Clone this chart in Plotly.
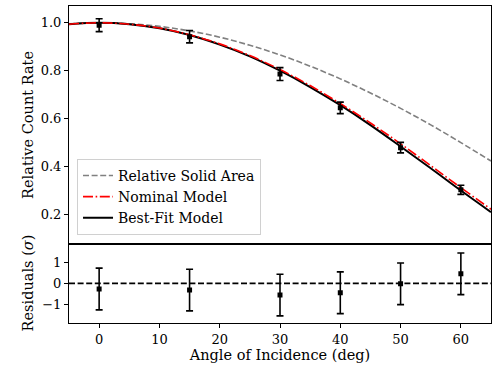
import plotly.graph_objects as go
from plotly.subplots import make_subplots

# measured points
angles = [0, 15, 30, 40, 50, 60]
rate = [0.990, 0.942, 0.786, 0.645, 0.479, 0.303]
rate_err = [0.027, 0.026, 0.027, 0.024, 0.022, 0.019]
resid = [-0.27, -0.32, -0.56, -0.45, -0.02, 0.46]
resid_err = [1, 1, 1, 1, 1, 1]

theta = [-5, 0, 5, 10, 15, 20, 25, 30, 35, 40, 45, 50, 55, 60, 65]
solid_area = [0.996, 1.0, 0.996, 0.985, 0.966, 0.940, 0.906, 0.866, 0.819,
              0.766, 0.707, 0.643, 0.574, 0.500, 0.423]
nominal = [0.994, 1.0, 0.994, 0.978, 0.950, 0.912, 0.863, 0.805, 0.738,
           0.663, 0.582, 0.495, 0.404, 0.312, 0.222]
best_fit = [0.994, 1.0, 0.994, 0.977, 0.949, 0.909, 0.860, 0.800, 0.732,
            0.656, 0.573, 0.484, 0.393, 0.300, 0.210]

FONT = "DejaVu Serif"

fig = make_subplots(rows=2, cols=1, shared_xaxes=True, vertical_spacing=0,
                    row_heights=[0.75, 0.25])

fig.add_trace(go.Scatter(x=theta, y=solid_area, mode="lines", name="Relative Solid Area",
                         line=dict(color="#808080", width=1.6, dash="6px,2.6px", shape="spline"),
                         legendrank=1), row=1, col=1)
fig.add_trace(go.Scatter(x=theta, y=best_fit, mode="lines", name="Best-Fit Model",
                         line=dict(color="black", width=2, shape="spline"),
                         legendrank=3), row=1, col=1)
fig.add_trace(go.Scatter(x=theta, y=nominal, mode="lines", name="Nominal Model",
                         line=dict(color="red", width=1.6, dash="10px,2.6px,1.6px,2.6px", shape="spline"),
                         legendrank=2), row=1, col=1)
fig.add_trace(go.Scatter(x=angles, y=rate, mode="markers", showlegend=False,
                         marker=dict(symbol="square", size=5, color="black"),
                         error_y=dict(type="data", array=rate_err, color="black",
                                      thickness=1.6, width=3.5)), row=1, col=1)

fig.add_trace(go.Scatter(x=angles, y=resid, mode="markers", showlegend=False,
                         marker=dict(symbol="square", size=5, color="black"),
                         error_y=dict(type="data", array=resid_err, color="black",
                                      thickness=1.6, width=3.5)), row=2, col=1)
fig.add_hline(y=0, row=2, col=1, line=dict(color="black", width=1.6, dash="6px,2.6px"))

axis_common = dict(showline=True, linecolor="black", linewidth=1, mirror=True,
                   showgrid=False, zeroline=False, tickcolor="black", automargin=False,
                   tickfont=dict(family=FONT, size=13, color="black"))
title_font = dict(family=FONT, size=14.5, color="black")

fig.update_xaxes(range=[-5, 65], ticks="", showticklabels=False, **axis_common, row=1, col=1)
fig.update_xaxes(range=[-5, 65], ticks="outside", ticklen=4, tickvals=[0, 10, 20, 30, 40, 50, 60],
                 title=dict(text="Angle of Incidence (deg)", font=title_font, standoff=4),
                 **axis_common, row=2, col=1)
fig.update_yaxes(range=[0.078, 1.07], ticks="outside", ticklen=4,
                 tickvals=[0.2, 0.4, 0.6, 0.8, 1.0], tickformat=".1f",
                 **axis_common, row=1, col=1)
fig.update_yaxes(range=[-1.9, 1.9], ticks="outside", ticklen=4, tickvals=[-1, 0, 1],
                 **axis_common, row=2, col=1)

# y titles as annotations so both line up like matplotlib's aligned labels
fig.add_annotation(text="Relative Count Rate", xref="paper", x=0, xshift=-41, xanchor="center",
                   yref="y domain", y=0.5, textangle=-90, showarrow=False, font=title_font)
fig.add_annotation(text="Residuals (<i>σ</i>)", xref="paper", x=0, xshift=-41, xanchor="center",
                   yref="y2 domain", y=0.5, textangle=-90, showarrow=False, font=title_font)

fig.update_layout(
    width=498, height=372,
    margin=dict(l=69, r=7, t=6, b=49),
    plot_bgcolor="white", paper_bgcolor="white",
    font=dict(family=FONT, size=13, color="black"),
    legend=dict(x=0.019, y=0.278, xanchor="left", yanchor="bottom",
                bgcolor="rgba(255,255,255,0.8)", bordercolor="#d0d0d0", borderwidth=1,
                font=dict(family=FONT, size=14, color="black"),
                tracegroupgap=0, itemwidth=30),
)

# page body has a default 8px margin; drop it so the figure sits at the corner
fig.write_html("out.html", config={"displayModeBar": False},
               post_script="document.body.style.margin='0';")
